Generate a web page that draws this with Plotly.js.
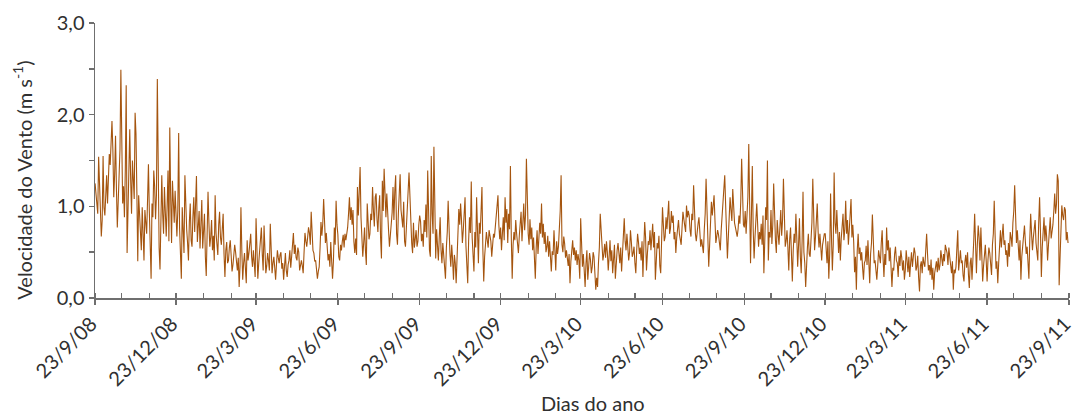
<!DOCTYPE html>
<html>
<head>
<meta charset="utf-8">
<script src="https://cdn.plot.ly/plotly-3.0.1.min.js"></script>
<style>html,body{margin:0;padding:0;background:#fff;}#chart{width:1075px;height:417px;}</style>
</head>
<body>
<div id="chart"></div>
<script>
// Quarter start dates (each quarter array holds daily values starting at that date)
const quarterStarts = ['2008-09-23','2008-12-23','2009-03-23','2009-06-23','2009-09-23','2009-12-23','2010-03-23','2010-06-23','2010-09-23','2010-12-23','2011-03-23','2011-06-23'];

// Daily wind speed (m s-1)
const q1 = [1.25,1.10,0.98,0.92,1.54,1.20,0.99,0.67,0.85,1.55,
 0.99,0.90,1.12,1.34,1.03,1.28,1.57,1.45,1.72,1.93,
 1.62,1.10,1.35,1.77,1.20,0.77,1.05,1.30,1.62,2.49,
 1.46,1.03,1.22,0.88,1.40,2.32,0.49,0.95,1.43,1.84,
 1.30,0.92,1.50,1.25,1.08,2.02,1.79,1.15,0.40,1.12,
 0.85,0.67,0.52,0.99,0.75,0.41,0.96,0.82,0.70,1.07,
 1.46,0.95,0.58,0.21,1.03,0.88,1.39,1.21,0.86,1.12,
 2.39,0.96,0.55,0.31,1.07,1.34,0.92,0.70,1.21,0.85,
 0.67,1.00,1.39,0.62,1.86,1.10,0.60,1.28,1.07,0.82,1.17];
const q2 = [0.90,0.67,0.95,1.80,0.77,0.45,0.21,0.99,0.62,0.49,
 1.34,0.92,0.75,0.60,0.41,0.83,1.03,0.63,0.56,0.88,
 1.10,0.72,0.94,1.33,0.61,0.77,0.95,0.54,0.80,1.07,
 0.54,0.68,0.92,0.45,0.24,0.70,1.16,0.82,0.56,0.66,
 0.85,0.52,0.68,0.41,1.12,0.71,0.58,0.47,0.80,0.94,
 0.66,0.58,0.75,0.92,0.48,0.23,0.52,0.61,0.38,0.41,
 0.55,0.63,0.47,0.29,0.36,0.45,0.58,0.50,0.42,0.30,
 0.44,0.12,0.35,0.99,0.52,0.20,0.38,0.49,0.33,0.16,
 0.63,0.41,0.49,0.57,0.70,0.45,0.34,0.52,0.28,0.23];
const q3 = [0.87,0.45,0.21,0.38,0.56,0.62,0.77,0.48,0.30,0.79,
 0.52,0.27,0.35,0.49,0.41,0.30,0.81,0.55,0.27,0.38,
 0.45,0.33,0.20,0.37,0.52,0.44,0.38,0.47,0.50,0.32,
 0.38,0.20,0.35,0.49,0.30,0.23,0.36,0.41,0.52,0.33,
 0.45,0.60,0.71,0.48,0.58,0.44,0.41,0.55,0.50,0.30,
 0.38,0.41,0.35,0.27,0.50,0.71,0.62,0.56,0.66,0.77,
 0.71,0.58,0.94,0.66,0.52,0.49,0.40,0.41,0.33,0.21,
 0.29,0.34,0.55,0.83,0.68,0.81,1.08,0.85,0.60,0.71,
 0.52,0.41,0.48,0.34,0.61,0.45,0.21,0.40,0.77,0.58,1.06,0.80];
const q4 = [0.69,0.45,0.41,0.58,0.52,0.62,0.69,0.55,0.70,0.63,
 0.70,0.77,0.92,1.10,0.85,0.99,0.80,0.96,0.62,0.49,
 0.65,0.47,1.21,0.90,1.15,1.43,0.88,0.72,0.45,0.60,
 0.77,0.52,0.36,1.03,0.82,0.64,0.70,0.92,0.85,1.21,
 0.95,0.78,1.10,1.14,0.86,0.72,0.98,1.12,0.66,0.43,
 1.28,0.95,1.41,1.02,0.88,1.14,0.99,0.74,0.56,0.68,
 0.74,0.93,1.21,0.85,1.17,1.34,0.70,0.58,0.92,1.08,
 1.35,0.96,0.82,0.77,1.05,0.62,0.56,0.75,0.90,1.15,
 1.37,1.12,0.72,0.60,0.49,0.82,0.55,0.68,0.74,0.56,0.62,0.80];
const q5 = [0.90,0.83,0.62,0.70,0.56,0.85,0.72,1.02,0.66,1.39,
 0.88,0.52,0.45,1.55,0.92,0.70,1.65,1.10,0.43,0.75,
 0.58,0.41,0.66,0.88,0.52,0.38,0.60,0.47,0.35,0.21,
 0.55,0.72,1.06,0.68,0.49,0.34,0.58,0.42,0.20,0.47,
 0.38,0.16,0.52,0.63,0.97,0.80,1.03,0.85,0.60,0.74,
 0.92,1.10,0.57,0.35,0.16,0.62,0.88,0.71,1.27,0.66,
 0.50,0.29,0.72,0.55,1.10,0.63,0.38,0.82,0.70,0.95,
 1.21,0.54,0.18,0.45,0.60,0.72,0.63,0.55,0.74,0.68,
 0.62,0.45,0.58,0.70,0.66,0.77,0.84,0.92,1.12,0.80,0.64];
const q6 = [0.77,0.52,0.70,0.88,0.63,1.10,0.82,0.97,0.60,0.92,
 0.75,1.44,0.66,0.21,0.58,0.72,0.63,0.85,0.70,0.55,
 0.49,0.68,0.80,0.94,0.62,0.85,1.03,0.74,0.90,1.52,
 0.92,0.70,0.58,0.86,0.64,0.77,0.52,0.66,0.44,0.21,
 0.55,0.74,0.48,0.63,0.82,0.70,1.03,0.66,0.81,0.59,
 0.72,0.50,0.56,0.68,0.45,0.62,0.38,0.29,0.51,0.47,
 0.74,0.55,0.30,0.62,0.48,0.56,0.70,0.95,1.34,0.58,
 0.50,0.67,0.59,0.44,0.52,0.41,0.35,0.48,0.16,0.40,
 0.58,0.63,0.47,0.55,0.41,0.52,0.36,0.48,0.41,0.21];
const q7 = [0.87,0.55,0.34,0.48,0.30,0.12,0.38,0.52,0.20,0.36,
 0.49,0.42,0.27,0.34,0.50,0.45,0.28,0.09,0.22,0.12,
 0.38,0.55,0.92,0.70,0.58,0.41,0.48,0.59,0.44,0.62,
 0.50,0.30,0.45,0.63,0.40,0.52,0.27,0.46,0.58,0.21,
 0.44,0.52,0.60,0.49,0.38,0.55,0.29,0.48,0.66,0.87,
 0.62,0.52,0.70,0.58,0.41,0.50,0.74,0.61,0.45,0.49,
 0.56,0.38,0.27,0.52,0.70,0.61,0.48,0.55,0.41,0.62,
 0.23,0.55,0.83,0.66,0.30,0.48,0.62,0.58,0.74,0.52,
 0.65,0.81,0.55,0.72,0.20,0.44,0.60,0.54,0.68,0.35,0.27,0.62];
const q8 = [0.99,0.80,0.62,0.67,0.88,0.75,0.92,1.06,0.70,0.76,
 0.95,0.82,0.90,0.64,0.72,0.49,0.66,0.80,0.85,0.70,
 0.62,0.58,0.77,0.94,0.86,0.80,0.72,1.01,0.88,0.95,
 0.90,0.74,0.67,0.92,0.85,1.23,0.93,0.70,0.62,0.78,
 0.81,0.88,0.70,0.56,0.64,0.58,0.49,0.75,0.92,1.30,
 1.05,0.66,0.34,0.58,0.82,1.05,0.90,0.99,1.12,0.85,
 0.60,0.67,0.74,0.69,0.58,0.52,0.74,0.88,1.03,1.18,
 1.34,1.02,0.75,0.43,0.66,0.92,1.10,0.96,0.84,1.19,
 0.98,0.82,0.77,0.69,0.67,0.75,0.90,0.81,1.05,1.52,1.12,0.80];
const q9 = [0.77,0.95,0.70,0.88,1.10,1.68,0.82,0.38,0.90,1.44,
 0.75,0.43,0.66,0.92,1.03,0.80,0.56,0.72,0.64,0.81,
 0.58,0.90,0.27,0.62,0.99,0.85,1.50,0.41,0.72,0.66,
 0.96,0.59,0.80,1.25,0.72,0.63,0.49,0.85,0.70,0.58,
 0.77,0.96,0.68,0.85,1.30,0.92,0.56,0.62,0.74,0.55,
 0.30,0.64,0.77,0.48,0.18,0.52,0.70,0.60,0.92,0.66,
 0.34,0.58,0.87,0.45,0.27,0.62,1.16,0.50,0.38,0.12,
 0.40,0.56,0.70,0.48,0.45,0.62,0.82,1.30,0.74,0.52,
 0.66,0.80,1.03,0.72,0.55,0.70,0.46,0.41,0.58,0.66,0.70];
const q10 = [0.70,0.55,0.38,0.62,0.21,0.48,1.14,0.66,0.30,0.58,
 1.37,0.82,0.70,0.96,0.60,0.49,0.72,0.41,0.65,0.88,
 0.92,0.63,0.75,1.06,0.70,0.85,0.58,0.74,0.95,1.08,
 0.66,0.80,0.61,0.28,0.45,0.09,0.52,0.70,0.48,0.55,
 0.41,0.50,0.33,0.20,0.38,0.41,0.57,0.36,0.63,0.42,
 0.16,0.48,0.60,0.91,0.55,0.38,0.41,0.29,0.20,0.35,
 0.52,0.45,0.38,0.60,0.74,0.44,0.23,0.48,0.36,0.77,
 0.52,0.63,0.40,0.55,0.28,0.12,0.33,0.30,0.48,0.56,
 0.41,0.38,0.23,0.46,0.35,0.52,0.44,0.30,0.41,0.20];
const q11 = [0.30,0.52,0.41,0.28,0.45,0.23,0.38,0.50,0.34,0.42,
 0.55,0.49,0.30,0.34,0.46,0.22,0.07,0.35,0.40,0.27,
 0.45,0.38,0.34,0.52,0.70,0.48,0.30,0.36,0.25,0.42,
 0.20,0.33,0.09,0.27,0.34,0.40,0.28,0.44,0.30,0.36,
 0.52,0.43,0.35,0.48,0.40,0.58,0.52,0.49,0.36,0.55,
 0.45,0.33,0.27,0.40,0.09,0.31,0.27,0.34,0.50,0.74,
 0.30,0.46,0.52,0.38,0.41,0.25,0.18,0.39,0.47,0.33,
 0.50,0.26,0.11,0.38,0.44,0.20,0.55,0.63,0.92,0.48,
 0.27,0.58,0.79,0.66,0.41,0.77,0.52,0.18,0.35,0.47,0.58,0.40];
const q12 = [0.18,0.42,0.55,0.49,0.30,0.25,0.58,0.70,1.06,0.48,
 0.32,0.40,0.16,0.38,0.62,0.74,0.55,0.66,0.81,0.58,
 0.63,0.47,0.52,0.34,0.60,0.45,0.72,0.66,0.56,0.82,
 0.95,1.23,0.88,0.60,0.74,0.52,0.41,0.63,0.20,0.45,
 0.56,0.70,0.79,0.62,0.48,0.56,0.38,0.21,0.64,0.92,
 0.70,0.52,0.66,0.75,0.85,0.60,0.48,0.41,0.82,1.10,
 0.72,0.23,0.55,0.70,0.88,0.62,0.79,0.66,0.41,0.58,
 0.74,0.88,0.65,0.72,0.80,0.95,1.14,0.92,1.02,1.35,
 1.28,0.14,0.52,0.68,1.01,0.90,0.85,0.99,0.96,0.63,0.72,0.60];

// Axis tick labels
const majorTickDates = ['2008-09-23','2008-12-23','2009-03-23','2009-06-23','2009-09-23','2009-12-23','2010-03-23','2010-06-23','2010-09-23','2010-12-23','2011-03-23','2011-06-23','2011-09-23'];
const majorTickLabels = ['23/9/08','23/12/08','23/3/09','23/6/09','23/9/09','23/12/09','23/3/10','23/6/10','23/9/10','23/12/10','23/3/11','23/6/11','23/9/11'];
const yTickVals = [0,1,2,3];
const xTitle = 'Dias do ano';
const yTitle = 'Velocidade do Vento (m s<sup>-1</sup>)';

const quarters = [q1,q2,q3,q4,q5,q6,q7,q8,q9,q10,q11,q12];
const xs = [], ys = [];
quarters.forEach((q, k) => {
  const s = new Date(quarterStarts[k] + 'T00:00:00Z');
  q.forEach((v, i) => {
    const d = new Date(s.getTime() + i * 86400000);
    xs.push(d.toISOString().slice(0, 10));
    ys.push(v);
  });
});

// monthly minor ticks (23rd of every month)
const minorTicks = [];
for (let y = 2008, m = 8; y < 2011 || (y === 2011 && m <= 8); ) {
  minorTicks.push(y + '-' + String(m + 1).padStart(2, '0') + '-23');
  m++; if (m > 11) { m = 0; y++; }
}

const FONT = 'Lato, "Open Sans", "DejaVu Sans", sans-serif';
const TXT = '#303030';
const axisColor = '#6f6f6f';

Plotly.newPlot('chart', [{
  type: 'scatter', mode: 'lines', x: xs, y: ys,
  line: {color: '#A5550F', width: 1.1},
  hoverinfo: 'skip'
}], {
  width: 1075, height: 417,
  margin: {l: 95, r: 6, t: 23, b: 119},
  paper_bgcolor: '#fff', plot_bgcolor: '#fff',
  separators: ',.',
  showlegend: false,
  font: {family: FONT, size: 20, color: TXT},
  xaxis: {
    type: 'date',
    range: ['2008-09-22 22:00', '2011-09-23 02:00'],
    showgrid: false, zeroline: false,
    showline: true, linecolor: axisColor, linewidth: 1.5,
    tickmode: 'array', tickvals: majorTickDates, ticktext: majorTickLabels,
    tickangle: -45, ticks: 'outside', ticklen: 5, tickwidth: 1.5, tickcolor: axisColor,
    ticklabeloverflow: 'allow', ticklabelshift: -4,
    tickfont: {family: FONT, size: 20, color: TXT},
    minor: {tickmode: 'array', tickvals: minorTicks, ticks: 'inside', ticklen: 5, tickwidth: 1.2, tickcolor: axisColor, showgrid: false},
    automargin: false
  },
  yaxis: {
    range: [0, 3],
    showgrid: false, zeroline: false,
    showline: true, linecolor: axisColor, linewidth: 1.5,
    tickmode: 'array', tickvals: yTickVals, tickformat: '.1f',
    ticks: 'outside', ticklen: 5, tickwidth: 1.5, tickcolor: axisColor,
    tickfont: {family: FONT, size: 20, color: TXT},
    minor: {dtick: 0.5, ticks: 'outside', ticklen: 5, tickwidth: 1.5, tickcolor: axisColor, showgrid: false},
    automargin: false
  },
  annotations: [
    {text: xTitle, xref: 'paper', yref: 'paper', x: 0.511, y: -0.381, xanchor: 'center', yanchor: 'middle',
     showarrow: false, font: {family: FONT, size: 20, color: TXT}},
    {text: yTitle, xref: 'paper', yref: 'paper', x: -0.075, y: 0.43, xanchor: 'center', yanchor: 'middle',
     textangle: -90, showarrow: false, font: {family: FONT, size: 20, color: TXT}}
  ]
}, {staticPlot: true});
</script>
</body>
</html>
